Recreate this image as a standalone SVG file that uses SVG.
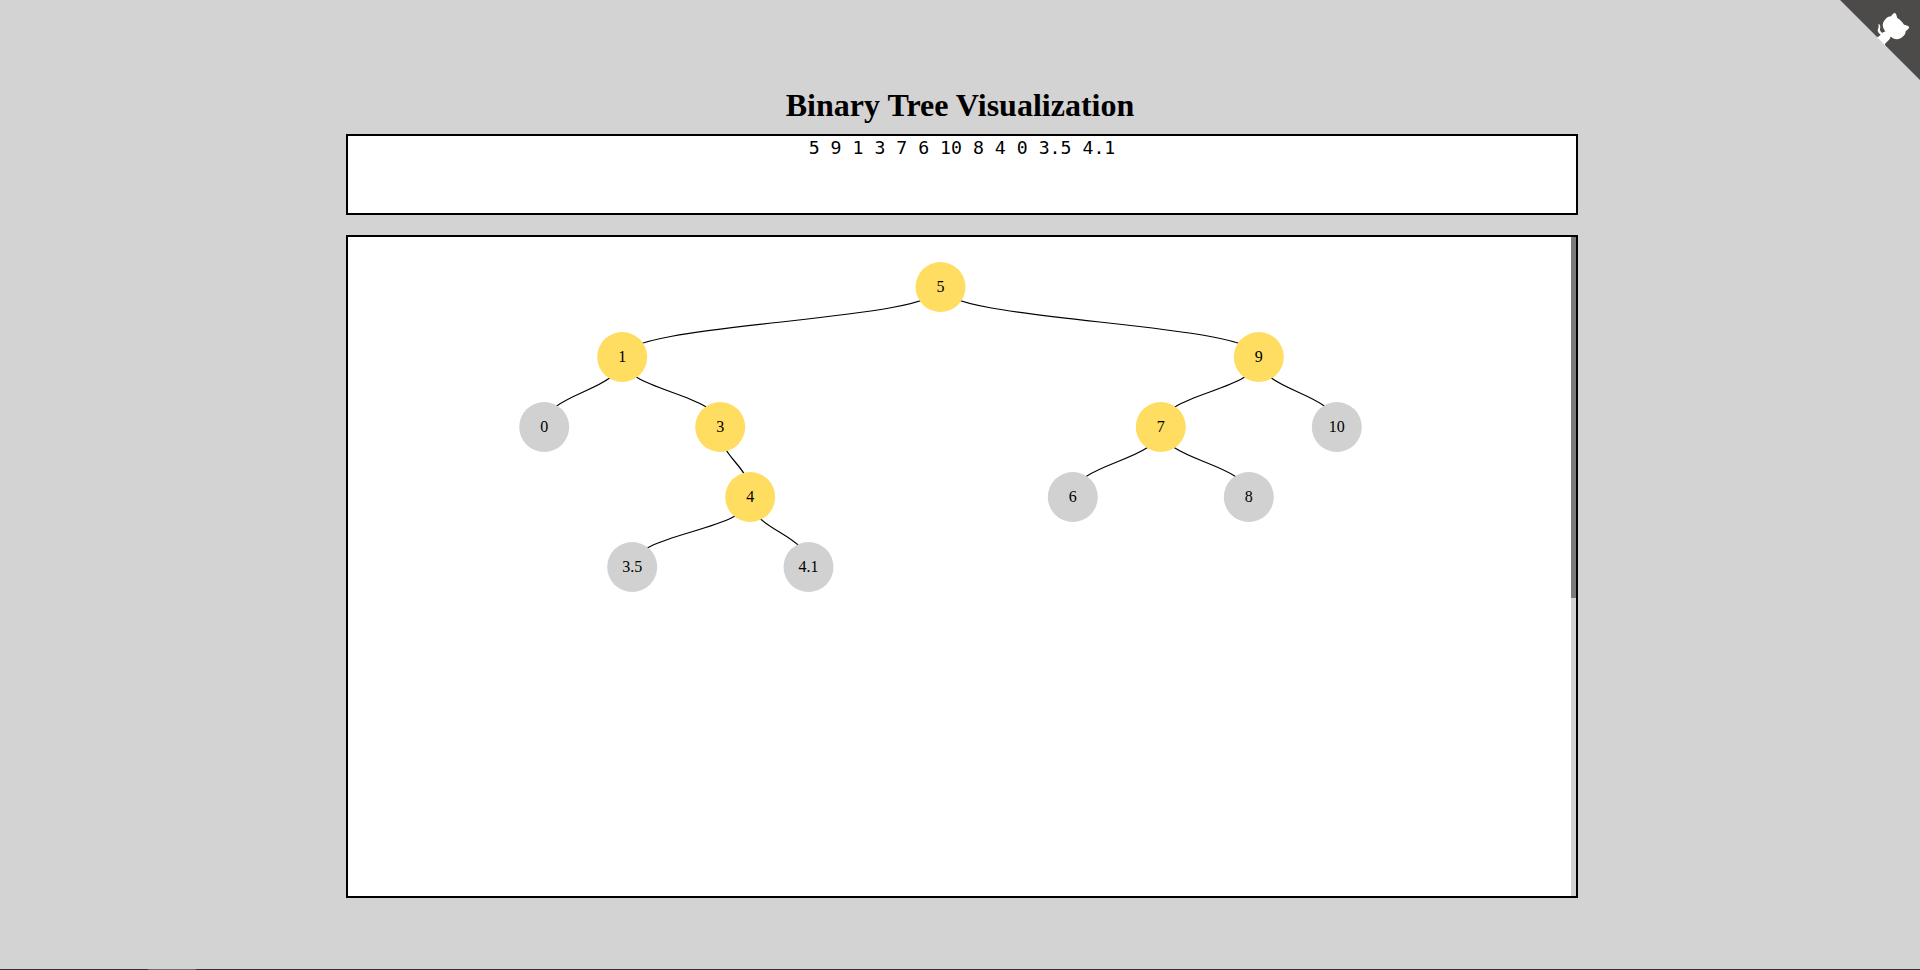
<svg xmlns="http://www.w3.org/2000/svg" width="1920" height="970" viewBox="0 0 1920 970">
<style>
.panel{fill:#fff;stroke:#000;stroke-width:2}
.link{fill:none;stroke:#000;stroke-width:1.2}
.inner{fill:#ffdd60}
.leaf{fill:#d1d1d1}
.lbl{font-family:"Liberation Serif","Times New Roman",serif;font-size:16px;fill:#000;text-anchor:middle}
</style>
<rect width="1920" height="970" fill="#d3d3d3"/>
<rect x="0" y="969" width="1920" height="1" fill="#333"/>
<rect x="148" y="969" width="48" height="1" fill="#6e6e6e"/>
<g id="github-corner">
<g transform="translate(1840 0) scale(0.32)">
<path d="M0,0 L115,115 L130,115 L142,142 L250,250 L250,0 Z" fill="#4d4a4a"/>
<path d="M128.3,109.0 C113.8,99.7 119.0,89.6 119.0,89.6 C122.0,82.7 120.5,78.6 120.5,78.6 C119.2,72.0 123.4,76.3 123.4,76.3 C127.3,80.9 125.5,87.3 125.5,87.3 C122.9,97.6 130.6,101.9 134.4,103.2" fill="#fff"/>
<path d="M115.0,115.0 C114.9,115.1 118.7,116.5 119.8,115.4 L133.7,101.6 C136.9,99.2 139.9,98.4 142.2,98.6 C133.8,88.0 127.5,74.4 143.8,58.0 C148.5,53.4 154.0,51.2 159.7,51.0 C160.3,49.4 163.2,43.6 171.4,40.1 C171.4,40.1 176.1,42.5 178.8,56.2 C183.1,58.6 187.2,61.8 190.9,65.4 C194.5,69.0 197.7,73.2 200.1,77.6 C213.8,80.2 216.3,84.9 216.3,84.9 C212.7,93.1 206.9,96.0 205.4,96.6 C205.1,102.4 203.0,107.8 198.3,112.5 C181.9,128.9 168.3,122.5 157.7,114.1 C157.9,116.9 156.7,120.9 152.7,124.9 L141.0,136.5 C139.8,137.7 141.6,141.9 141.8,141.8 Z" fill="#fff"/>
</g>
</g>
<text id="title" x="960" y="116" text-anchor="middle" font-family="'Liberation Serif','Times New Roman',serif" font-size="32" font-weight="bold" fill="#000">Binary Tree Visualization</text>
<g id="input-panel">
<rect class="panel" x="347" y="135" width="1230" height="79"/>
<text x="962" y="154" text-anchor="middle" font-family="'DejaVu Sans Mono','Liberation Mono',monospace" font-size="18.2" fill="#000" xml:space="preserve">5 9 1 3 7 6 10 8 4 0 3.5 4.1</text>
</g>
<g id="tree-panel">
<rect class="panel" x="347" y="236" width="1230" height="661"/>
<rect x="1571" y="237" width="5" height="659" fill="#d2d2d2"/>
<rect x="1571" y="237" width="5" height="361" fill="#7a7a7a"/>
</g>
<g id="connectors">
<path class="link" d="M940.5,287C940.5,322 622.2,322 622.2,357"/>
<path class="link" d="M940.5,287C940.5,322 1258.8,322 1258.8,357"/>
<path class="link" d="M622.2,357C622.2,392 544.2,392 544.2,427"/>
<path class="link" d="M622.2,357C622.2,392 720.2,392 720.2,427"/>
<path class="link" d="M720.2,427C720.2,462 750.2,462 750.2,497"/>
<path class="link" d="M750.2,497C750.2,532 632.2,532 632.2,567"/>
<path class="link" d="M750.2,497C750.2,532 808.5,532 808.5,567"/>
<path class="link" d="M1258.8,357C1258.8,392 1160.8,392 1160.8,427"/>
<path class="link" d="M1258.8,357C1258.8,392 1336.8,392 1336.8,427"/>
<path class="link" d="M1160.8,427C1160.8,462 1072.8,462 1072.8,497"/>
<path class="link" d="M1160.8,427C1160.8,462 1248.8,462 1248.8,497"/>
</g>
<g id="node-5"><circle class="inner" cx="940.5" cy="287" r="25"/><text class="lbl" x="940.5" y="292">5</text></g>
<g id="node-1"><circle class="inner" cx="622.2" cy="357" r="25"/><text class="lbl" x="622.2" y="362">1</text></g>
<g id="node-9"><circle class="inner" cx="1258.8" cy="357" r="25"/><text class="lbl" x="1258.8" y="362">9</text></g>
<g id="node-0"><circle class="leaf" cx="544.2" cy="427" r="25"/><text class="lbl" x="544.2" y="432">0</text></g>
<g id="node-3"><circle class="inner" cx="720.2" cy="427" r="25"/><text class="lbl" x="720.2" y="432">3</text></g>
<g id="node-7"><circle class="inner" cx="1160.8" cy="427" r="25"/><text class="lbl" x="1160.8" y="432">7</text></g>
<g id="node-10"><circle class="leaf" cx="1336.8" cy="427" r="25"/><text class="lbl" x="1336.8" y="432">10</text></g>
<g id="node-4"><circle class="inner" cx="750.2" cy="497" r="25"/><text class="lbl" x="750.2" y="502">4</text></g>
<g id="node-6"><circle class="leaf" cx="1072.8" cy="497" r="25"/><text class="lbl" x="1072.8" y="502">6</text></g>
<g id="node-8"><circle class="leaf" cx="1248.8" cy="497" r="25"/><text class="lbl" x="1248.8" y="502">8</text></g>
<g id="node-3-5"><circle class="leaf" cx="632.2" cy="567" r="25"/><text class="lbl" x="632.2" y="572">3.5</text></g>
<g id="node-4-1"><circle class="leaf" cx="808.5" cy="567" r="25"/><text class="lbl" x="808.5" y="572">4.1</text></g>
</svg>
